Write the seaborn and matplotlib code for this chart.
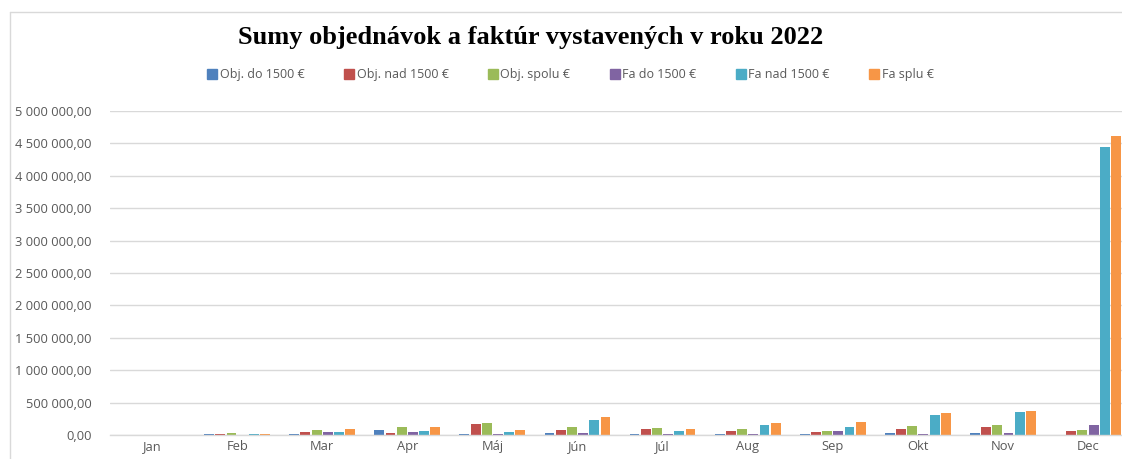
import matplotlib
matplotlib.use("Agg")
import matplotlib.pyplot as plt
from matplotlib.lines import Line2D
import matplotlib.ticker as mticker
import seaborn as sns
import pandas as pd

months = ["Jan", "Feb", "Mar", "Apr", "Máj", "Jún", "Júl", "Aug", "Sep", "Okt", "Nov", "Dec"]
series_names = ["Obj. do 1500 €", "Obj. nad 1500 €", "Obj. spolu €", "Fa do 1500 €", "Fa nad 1500 €", "Fa splu €"]

obj_do_1500 = [0, 22000, 22000, 77000, 22000, 36000, 22000, 22000, 22000, 36000, 36000, 0]
obj_nad_1500 = [0, 22000, 52000, 36000, 165000, 77000, 93000, 62000, 46000, 93000, 118000, 62000]
obj_spolu = [0, 36000, 77000, 118000, 190000, 118000, 108000, 93000, 62000, 134000, 150000, 77000]
fa_do_1500 = [0, 0, 52000, 46000, 22000, 36000, 22000, 22000, 62000, 22000, 36000, 150000]
fa_nad_1500 = [0, 22000, 52000, 62000, 46000, 232000, 62000, 150000, 129000, 309000, 350000, 4450000]
fa_splu = [0, 22000, 93000, 118000, 77000, 278000, 93000, 180000, 206000, 335000, 376000, 4620000]

colors = ["#4F81BD", "#C0504D", "#9BBB59", "#8064A2", "#4BACC6", "#F79646"]

all_series = [obj_do_1500, obj_nad_1500, obj_spolu, fa_do_1500, fa_nad_1500, fa_splu]
rows = []
for name, vals in zip(series_names, all_series):
    for m, v in zip(months, vals):
        rows.append({"Mesiac": m, "Séria": name, "Suma": v})
df = pd.DataFrame(rows)

sns.set_theme(style="white")
plt.rcParams['font.family'] = ['Open Sans', 'DejaVu Sans']

fig = plt.figure(figsize=(11.22, 4.59), dpi=100)
ax = fig.add_axes([0.0976, 0.0523, 0.910, 0.7059])

sns.barplot(data=df, x="Mesiac", y="Suma", hue="Séria", order=months,
            hue_order=series_names, palette=colors, ax=ax, width=0.79,
            gap=0.12, saturation=1, edgecolor="none", linewidth=0,
            legend=False)

ax.set_ylim(0, 5000000)
ax.set_xlim(-0.5, 11.5)
ax.yaxis.set_major_locator(mticker.MultipleLocator(500000))
ax.yaxis.set_major_formatter(mticker.FuncFormatter(
    lambda v, p: f"{v:,.2f}".replace(",", " ").replace(".", ",")))
ax.grid(axis="y", color="#D9D9D9", linewidth=1)
ax.set_axisbelow(True)
for s in ["top", "right", "left"]:
    ax.spines[s].set_visible(False)
ax.spines["bottom"].set_color("#D9D9D9")
ax.spines["bottom"].set_linewidth(1)
ax.tick_params(axis="both", length=0, colors="#595959", labelsize=9.3)
ax.tick_params(axis="y", pad=13)
ax.set_xlabel("")
ax.set_ylabel("")

fig.text(0.473, 0.919, "Sumy objednávok a faktúr vystavených v roku 2022",
         ha="center", va="center", fontsize=19, fontweight="bold",
         family="Liberation Serif", color="black")

handles = [Line2D([0], [0], marker="s", linestyle="", markersize=6.5,
                  markerfacecolor=c, markeredgecolor=c) for c in colors]
fig.legend(handles, series_names, loc="center", bbox_to_anchor=(0.508, 0.837),
           ncol=6, frameon=False, fontsize=9, labelcolor="#595959",
           handletextpad=0.1, columnspacing=3.05, handlelength=1.0)

# spreadsheet cell border remnants
fig.add_artist(Line2D([0.009, 0.009], [0.0, 0.974], color="#D9D9D9", lw=1, transform=fig.transFigure))
fig.add_artist(Line2D([0.009, 1.0], [0.974, 0.974], color="#D9D9D9", lw=1, transform=fig.transFigure))

fig.savefig("out.png", dpi=100)
